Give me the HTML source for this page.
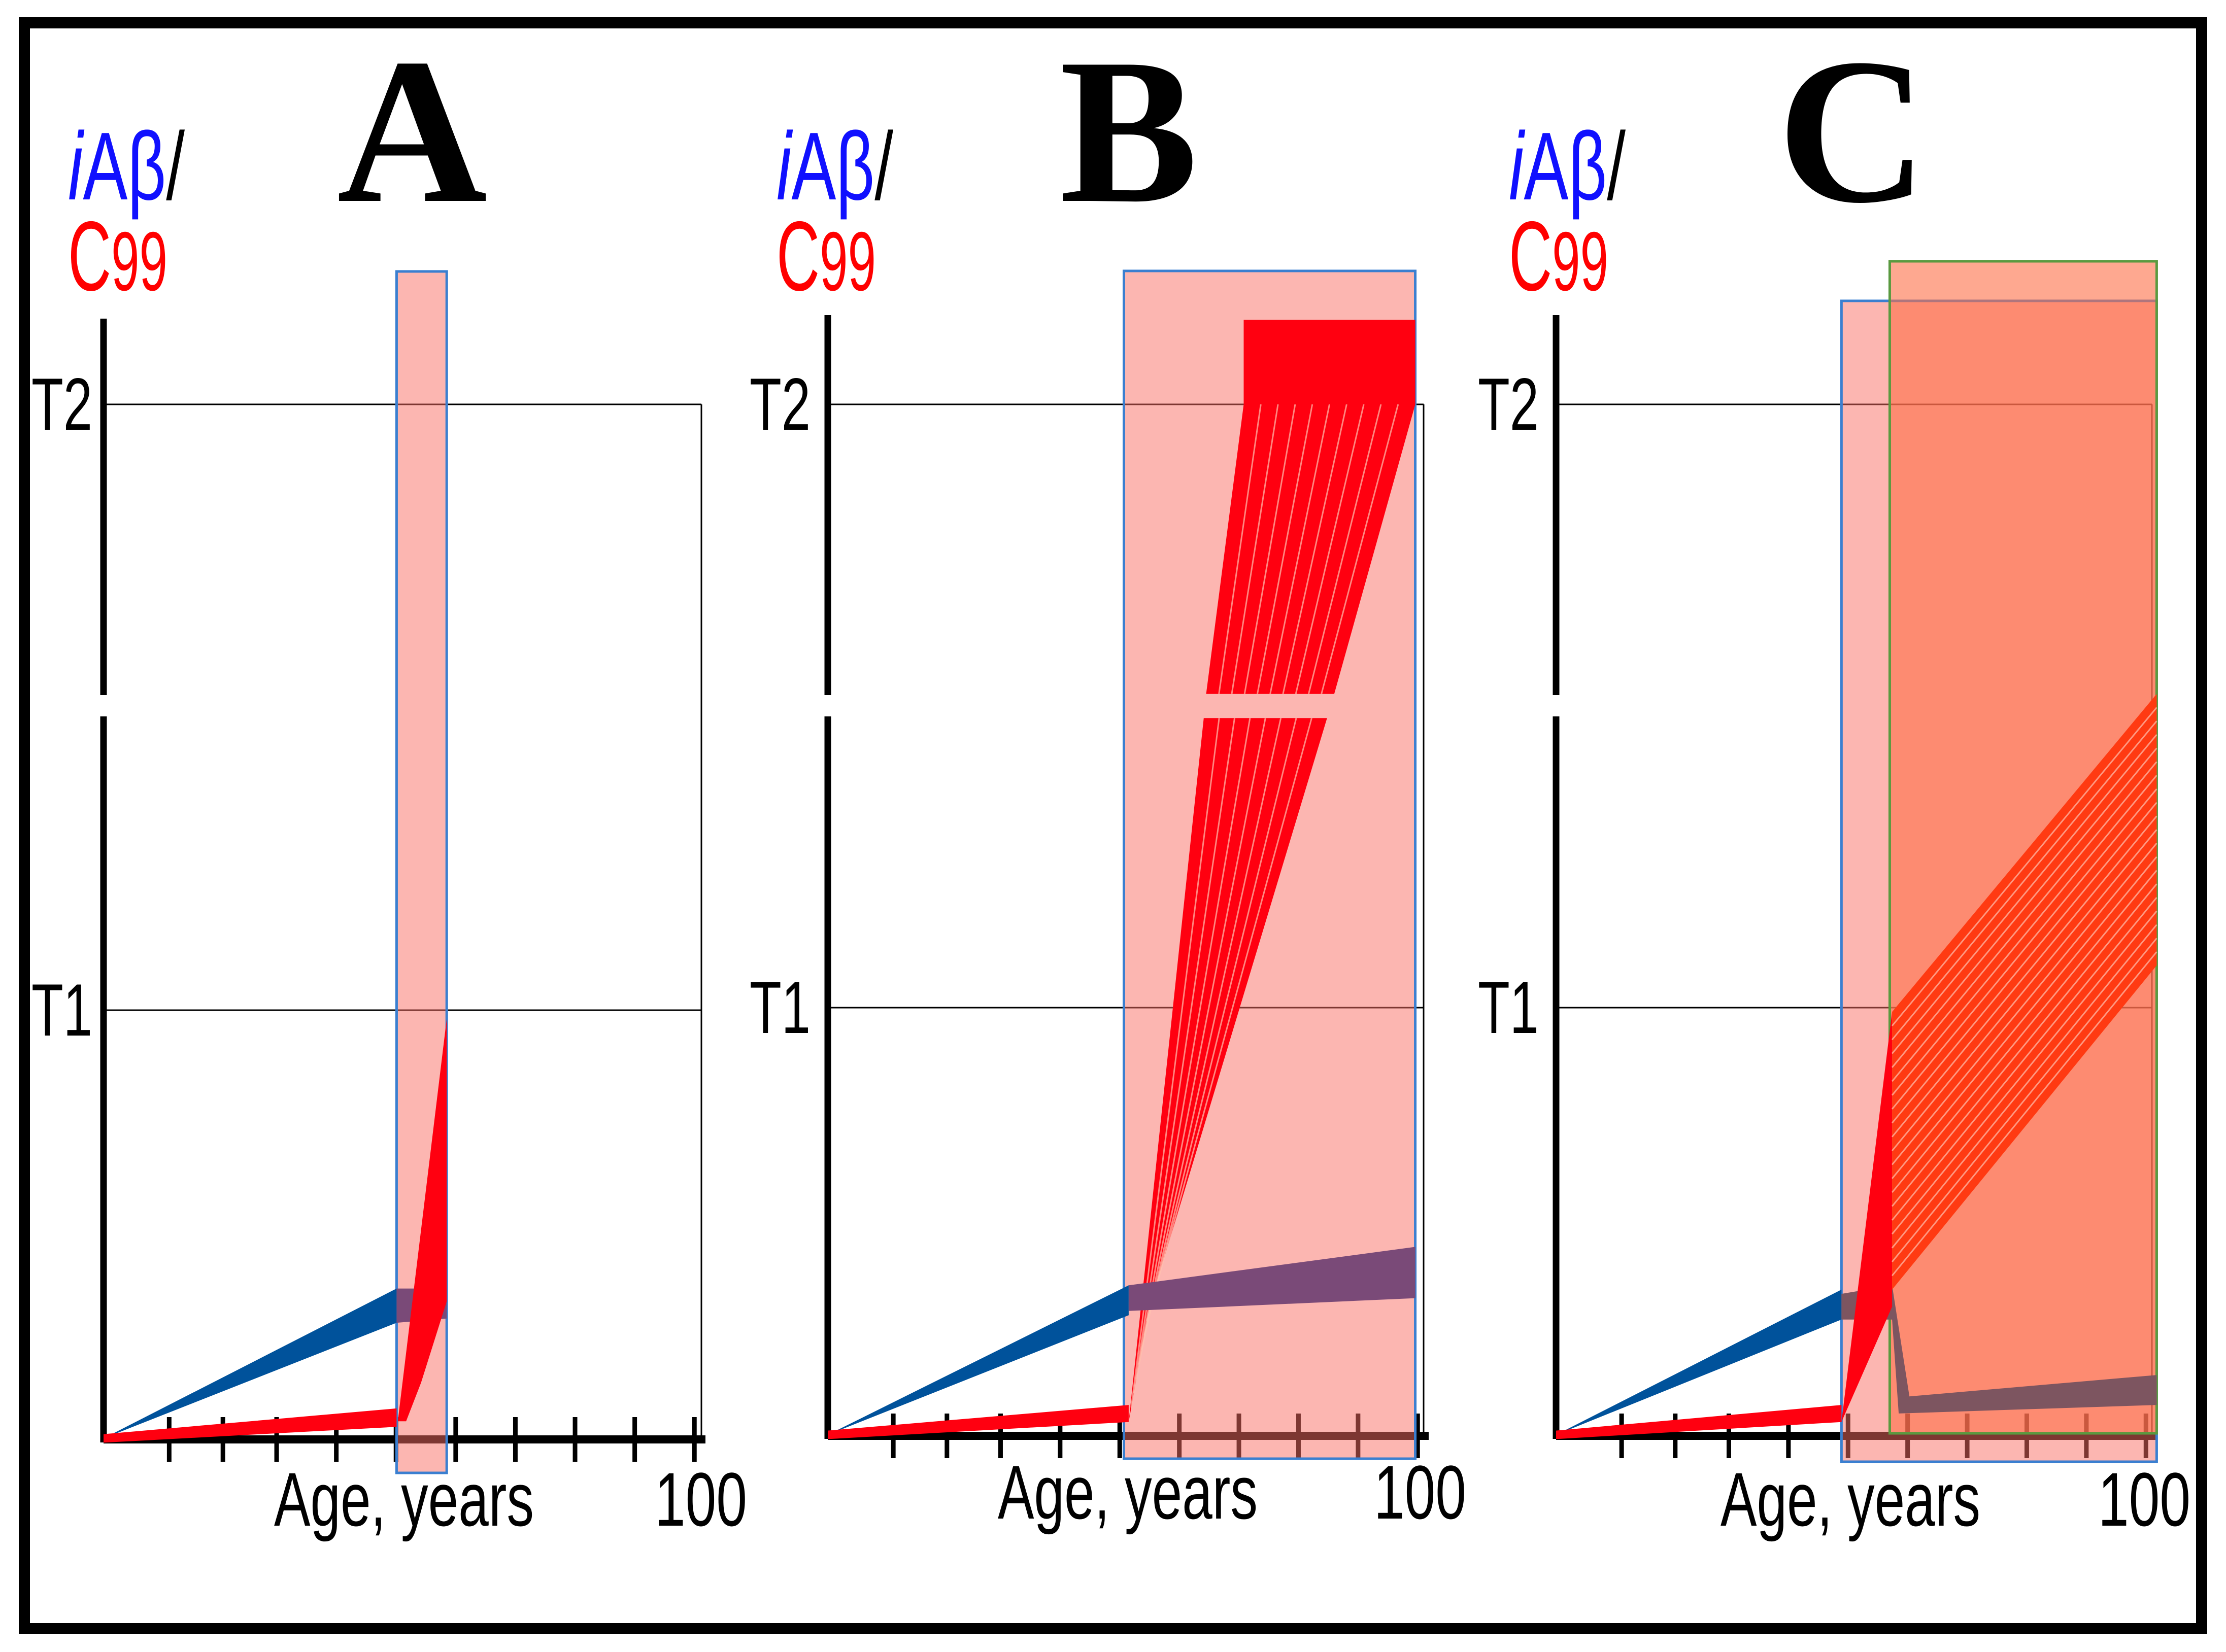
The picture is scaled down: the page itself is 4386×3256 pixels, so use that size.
<!DOCTYPE html>
<html><head><meta charset="utf-8"><style>
html,body{margin:0;padding:0;background:#fff;}
svg{display:block;}
.sans{font-family:"Liberation Sans",sans-serif;}
.serif{font-family:"Liberation Serif",serif;font-weight:bold;}
</style></head><body>
<svg id="fig" width="4386" height="3256" viewBox="0 0 4386 3256" xmlns="http://www.w3.org/2000/svg">
<rect x="48" y="45" width="4290" height="3165" fill="none" stroke="#000" stroke-width="22"/>
<g id="layer"></g>
</svg>
<script>
// ---- data (age in years, level in threshold units: T1=1, T2=2) ----
const tickAges = [11,20,29,39,49,59,69,79,89,99];
const panelLetters = ["A","B","C"];
const thresholdLabels = ["T1","T2"];
// Panel A
const bandA = [49.1, 57.5];
const blueA = [[0,0],[49.1,0.35],[49.1,0.27],[0,0]];
const purpleA = [[49.1,0.35],[57.5,0.35],[57.5,0.28],[49.1,0.27]];
const redLowA = [[0,0.01],[49.1,0.07],[49.1,0.027],[0,-0.01]];
const redHighA = [[49.3,0.04],[57.5,0.98],[57.5,0.32],[53.2,0.13],[50.7,0.04]];
// Panel B
const bandB = [49.7, 98.6];
const blueB = [[0,0],[50.5,0.35],[50.5,0.28],[0,0]];
const purpleB = [[50.5,0.35],[98.6,0.44],[98.6,0.32],[50.5,0.29]];
const redLowB = [[0,0.01],[50.5,0.07],[50.5,0.03],[0,-0.01]];
const redFanLowB = [[50.5,0.03],[63.1,1.48],[83.8,1.48],[54,0.3]];
const redFanHighB = [[63.5,1.52],[69.8,2.0],[98.6,2.0],[85,1.52]];
const redBlockB = [[69.8,2.14],[98.6,2.14],[98.6,2.0],[69.8,2.0]];
// Panel C
const bandC = [47.9, 100.8];
const boxC = [56.0, 100.8];
const blueC = [[0,0],[47.9,0.34],[47.9,0.27],[0,0]];
const redLowC = [[0,0.01],[47.9,0.07],[47.9,0.03],[0,-0.01]];
const purpleC = [[47.9,0.33],[56.4,0.35],[59.3,0.09],[100.8,0.14],[100.8,0.07],[57.5,0.05],[56.4,0.27],[47.9,0.27]];
const redSteepC = [[47.9,0.03],[56.4,0.99],[56.4,0.3]];
const redFanC = [[56.4,0.99],[100.8,1.52],[100.8,1.07],[56.4,0.34]];

// ---- geometry ----
const panels = [
 {ax:204, x100:1380, y0:2835, yT1:1991, yT2:797, top:628, right:1382, brk:[1370,1412]},
 {ax:1631, x100:2805, y0:2828, yT1:1986, yT2:797, top:621, right:2805, brk:[1370,1412]},
 {ax:3066, x100:4240, y0:2828, yT1:1986, yT2:797, top:621, right:4240, brk:[1370,1412]}
];
const NS="http://www.w3.org/2000/svg";
const layer=document.getElementById('layer');
function X(p,a){return p.ax+(p.x100-p.ax)*a/100;}
function Y(p,v){return v<=1? p.y0-(p.y0-p.yT1)*v : p.yT1-(p.yT1-p.yT2)*(v-1);}
function el(tag,attrs){const e=document.createElementNS(NS,tag);for(const k in attrs)e.setAttribute(k,attrs[k]);layer.appendChild(e);return e;}
function poly(p,pts,fill,name){const e=el('polygon',{points:pts.map(q=>X(p,q[0]).toFixed(1)+','+Y(p,q[1]).toFixed(1)).join(' '),fill:fill});
 
 return e;}
function fanLines(p,pts,n,name){
 for(let i=1;i<n;i++){const t=i/n;
  const a=[pts[0][0]+(pts[3][0]-pts[0][0])*t, pts[0][1]+(pts[3][1]-pts[0][1])*t];
  const b=[pts[1][0]+(pts[2][0]-pts[1][0])*t, pts[1][1]+(pts[2][1]-pts[1][1])*t];
  const l=el('line',{x1:X(p,a[0]),y1:Y(p,a[1]),x2:X(p,b[0]),y2:Y(p,b[1]),stroke:'#ffc0b0','stroke-width':3,opacity:0.7});
  
  }}
function txt(x,y,s,size,fill,extra,name){const e=el('text',Object.assign({x:x,y:y,'font-size':size,fill:fill,'class':'sans'},extra||{}));e.textContent=s;
 
 return e;}

const labelX=[[134,1530,2973],[62,1477,2912]];
const ageX=[540,1966,3390], ageY=[3007,2993,3007];
const hundredX=[1290,2707,4134];
const letterX=[812,2224,3650];
const fit={lengthAdjust:'spacingAndGlyphs'};

panels.forEach((p,i)=>{
 const band=[bandA,bandB,bandC][i];
 const bTop=[535,534,593][i], bBot=[2903,2875,2881][i];
 [[p.yT2,'t2-line'],[p.yT1,'t1-line']].forEach(([y,n])=>{const l=el('line',{x1:p.ax,y1:y,x2:p.right,y2:y,stroke:'#000','stroke-width':3});
  
  });
 const r=el('line',{x1:p.right,y1:p.yT2,x2:p.right,y2:p.y0,stroke:'#000','stroke-width':3});
 
 
 const y1=el('line',{x1:p.ax,y1:p.top,x2:p.ax,y2:p.brk[0],stroke:'#000','stroke-width':13});
 
 
 const y2=el('line',{x1:p.ax,y1:p.brk[1],x2:p.ax,y2:p.y0+8,stroke:'#000','stroke-width':13});
 
 
 const xa=el('line',{x1:p.ax,y1:p.y0+2,x2:X(p,100)+10,y2:p.y0+2,stroke:'#000','stroke-width':16});
 
 
 tickAges.forEach(a=>{const t=el('line',{x1:X(p,a),y1:p.y0-42,x2:X(p,a),y2:p.y0+46,stroke:'#000','stroke-width':9});
  
  });
 const t1=txt(labelX[0][i],393,'',190,'#1010ff',Object.assign({textLength:230},fit),'y-label-iabeta');
 const s1=document.createElementNS(NS,'tspan');s1.setAttribute('font-style','italic');s1.textContent='i';t1.appendChild(s1);
 const s2=document.createElementNS(NS,'tspan');s2.textContent='Aβ';t1.appendChild(s2);
 const s3=document.createElementNS(NS,'tspan');s3.setAttribute('fill','#000');s3.textContent='/';t1.appendChild(s3);
 const c=txt(labelX[0][i],572,'C',195,'#ff0000',Object.assign({textLength:196},fit),'y-label-c99');
 const s4=document.createElementNS(NS,'tspan');s4.setAttribute('font-size','165');s4.textContent='99';c.appendChild(s4);
 txt(labelX[1][i],Y(p,2)+50,thresholdLabels[1],146,'#000',Object.assign({textLength:120},fit),'t2-label');
 txt(labelX[1][i],Y(p,1)+50,thresholdLabels[0],146,'#000',Object.assign({textLength:120},fit),'t1-label');
 txt(ageX[i],ageY[i],'Age, years',150,'#000',Object.assign({textLength:512},fit),'x-axis-title');
 txt(hundredX[i],ageY[i],'100',150,'#000',Object.assign({textLength:182},fit),'x-max-label');
 txt(letterX[i],396,panelLetters[i],410,'#000',{'text-anchor':'middle','class':'serif'},'panel-letter');
 const br=el('rect',{x:X(p,band[0]),y:bTop,width:X(p,band[1])-X(p,band[0]),height:bBot-bTop,fill:'rgba(250,110,100,0.5)',stroke:'#3a7fd0','stroke-width':5});
 
 
});

let p=panels[0];
poly(p,blueA,'#00529b','iabeta-band');
poly(p,purpleA,'#7a4a78','iabeta-after');
poly(p,redLowA,'#ff0010','c99-low');
poly(p,redHighA,'#ff0010','c99-rise');
p=panels[1];
poly(p,blueB,'#00529b','iabeta-band');
poly(p,redLowB,'#ff0010','c99-low');
poly(p,redFanLowB,'#ff0010','c99-fan-lower');
fanLines(p,redFanLowB,8,'fan-separator');
poly(p,redFanHighB,'#ff0010','c99-fan-upper');
fanLines(p,redFanHighB,10,'fan-separator');
poly(p,redBlockB,'#ff0010','c99-plateau');
poly(p,purpleB,'#7a4a78','iabeta-after');
p=panels[2];
const bx=el('rect',{x:X(p,boxC[0]),y:515,width:X(p,boxC[1])-X(p,boxC[0]),height:2825-515,fill:'rgba(253,110,70,0.6)',stroke:'#5a9a40','stroke-width':5});


poly(p,blueC,'#00529b','iabeta-band');
poly(p,redLowC,'#ff0010','c99-low');
poly(p,purpleC,'#7d5560','iabeta-after');
poly(p,redSteepC,'#ff0010','c99-rise');
poly(p,redFanC,'#ff3a12','c99-fan');
fanLines(p,redFanC,20,'fan-separator');
</script>
</body></html>
